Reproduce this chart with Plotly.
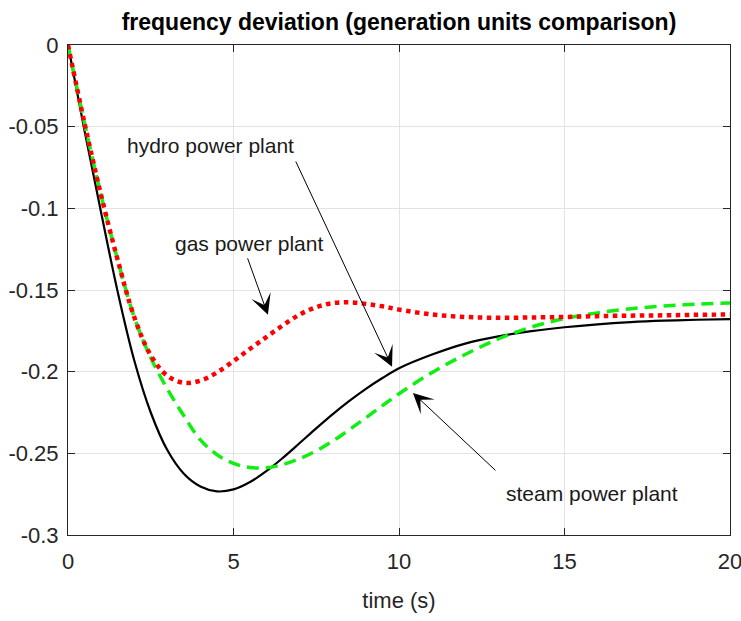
import plotly.graph_objects as go

# ---- data ----
t_hydro = [0, 0.5, 1.0, 1.5, 2.0, 2.5, 3.0, 3.5, 4.0, 4.5, 5.0, 5.5, 6.0, 6.5, 7.0, 7.5, 8.0, 8.5, 9.0, 9.5, 10, 11, 12, 13, 14, 15, 16, 17, 18, 19, 20]
y_hydro = [0, -0.0525, -0.1025, -0.151, -0.193, -0.225, -0.248, -0.2625, -0.2703, -0.2733, -0.2721, -0.2676, -0.2608, -0.2526, -0.2437, -0.2347, -0.226, -0.2179, -0.2105, -0.2039, -0.1979, -0.1895, -0.1828, -0.1784, -0.1752, -0.1728, -0.171, -0.1697, -0.1688, -0.1682, -0.1678]

t_steam = [0, 0.5, 1.0, 1.5, 2.0, 2.5, 3.0, 3.5, 4.0, 4.5, 5.0, 5.5, 6.0, 6.5, 7.0, 7.5, 8.0, 8.5, 9.0, 9.5, 10, 11, 12, 13, 14, 15, 16, 17, 18, 19, 20]
y_steam = [0, -0.048, -0.092, -0.1315, -0.1665, -0.1915, -0.2105, -0.227, -0.2418, -0.2508, -0.2562, -0.2587, -0.2588, -0.2568, -0.2532, -0.2485, -0.2425, -0.2355, -0.2282, -0.2208, -0.2135, -0.2005, -0.1895, -0.18, -0.1727, -0.1675, -0.164, -0.1615, -0.1598, -0.1587, -0.158]

t_gas = [0, 0.5, 1.0, 1.5, 2.0, 2.5, 3.0, 3.5, 4.0, 4.5, 5.0, 5.5, 6.0, 6.5, 7.0, 7.5, 8.0, 8.5, 9.0, 9.5, 10, 11, 12, 13, 14, 15, 16, 17, 18, 19, 20]
y_gas = [0, -0.048, -0.092, -0.1315, -0.1665, -0.19, -0.2025, -0.2068, -0.2055, -0.2005, -0.1935, -0.186, -0.1787, -0.1715, -0.165, -0.1605, -0.158, -0.1575, -0.1585, -0.16, -0.162, -0.165, -0.1665, -0.167, -0.1668, -0.1665, -0.166, -0.1657, -0.1655, -0.1652, -0.165]

x_ticks = [0, 5, 10, 15, 20]
y_ticks = [0, -0.05, -0.1, -0.15, -0.2, -0.25, -0.3]
y_tick_labels = ["0", "-0.05", "-0.1", "-0.15", "-0.2", "-0.25", "-0.3"]

# annotation labels: (text, text x, text y, tail x, tail y, tip x, tip y)
labels = [
    ("hydro power plant", 4.32, -0.0618, 6.86, -0.0704, 9.79, -0.197),
    ("gas power plant", 5.47, -0.1218, 5.41, -0.1297, 6.04, -0.1652),
    ("steam power plant", 15.83, -0.2748, 12.96, -0.2613, 10.42, -0.213),
]

FONT = "Liberation Sans, Arial, sans-serif"

fig = go.Figure()
fig.add_trace(go.Scatter(x=t_hydro, y=y_hydro, mode="lines", name="hydro",
                         line=dict(color="black", width=2.2, shape="spline", smoothing=1)))
fig.add_trace(go.Scatter(x=t_steam, y=y_steam, mode="lines", name="steam",
                         line=dict(color="#11ee11", width=3.5, dash="12px,7px", shape="spline", smoothing=1)))
fig.add_trace(go.Scatter(x=t_gas, y=y_gas, mode="lines", name="gas",
                         line=dict(color="#ff0000", width=4.5, dash="dot", shape="spline", smoothing=1)))

annotations = []
for text, tx, ty, ax, ay, px, py in labels:
    annotations.append(dict(x=tx, y=ty, xref="x", yref="y", text=text, showarrow=False,
                            font=dict(family=FONT, size=21, color="#1a1a1a"),
                            xanchor="center", yanchor="middle"))
    annotations.append(dict(x=px, y=py, ax=ax, ay=ay, xref="x", yref="y", axref="x", ayref="y",
                            text="", showarrow=True, arrowhead=3, arrowsize=3.4, arrowwidth=1,
                            arrowcolor="black"))

axis_common = dict(showline=True, linecolor="#262626", linewidth=1, mirror="ticks",
                   ticks="inside", ticklen=7, tickcolor="#262626", automargin=False,
                   showgrid=True, gridcolor="#e3e3e3", gridwidth=1, zeroline=False,
                   ticklabeloverflow="allow",
                   tickfont=dict(family=FONT, size=22, color="#262626"))

fig.update_layout(
    width=741, height=621,
    margin=dict(l=68, r=11, t=45, b=86),
    paper_bgcolor="white", plot_bgcolor="white",
    showlegend=False,
    title=dict(text="<b>frequency deviation (generation units comparison)</b>",
               x=(68 + 730) / 2 / 741, xanchor="center",
               y=1 - 22 / 621, yanchor="middle", yref="container",
               font=dict(family=FONT, size=23, color="black")),
    xaxis=dict(range=[0, 20], tickvals=x_ticks, ticklabelstandoff=7,
               title=dict(text="time (s)", font=dict(family=FONT, size=22, color="#262626"), standoff=19),
               **axis_common),
    yaxis=dict(range=[-0.3, 0], tickvals=y_ticks, ticktext=y_tick_labels, ticklabelstandoff=4,
               **axis_common),
    annotations=annotations,
)

fig.write_html("out.html")
